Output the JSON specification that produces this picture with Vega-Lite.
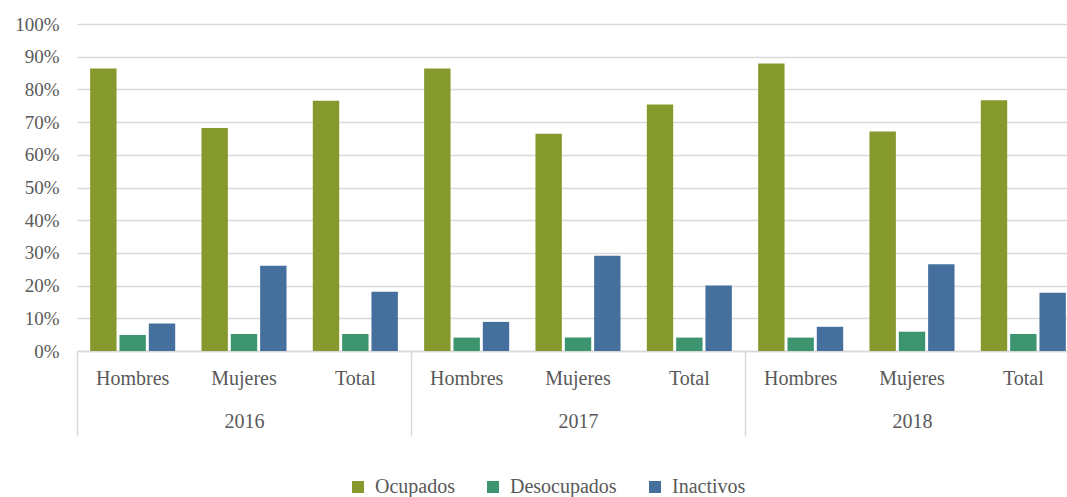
{
  "$schema": "https://vega.github.io/schema/vega-lite/v6.json",
  "width": 990,
  "height": 327,
  "autosize": {"type": "none"},
  "padding": {"left": 77, "top": 24, "right": 0, "bottom": 146},
  "background": "white",
  "config": {
    "view": {"stroke": null},
    "font": "Liberation Serif"
  },
  "data": {
    "values": [
      {"anio": "2016", "grupo": "2016 Hombres", "serie": "Ocupados", "valor": 0.864},
      {"anio": "2016", "grupo": "2016 Hombres", "serie": "Desocupados", "valor": 0.049},
      {"anio": "2016", "grupo": "2016 Hombres", "serie": "Inactivos", "valor": 0.084},
      {"anio": "2016", "grupo": "2016 Mujeres", "serie": "Ocupados", "valor": 0.682},
      {"anio": "2016", "grupo": "2016 Mujeres", "serie": "Desocupados", "valor": 0.052},
      {"anio": "2016", "grupo": "2016 Mujeres", "serie": "Inactivos", "valor": 0.261},
      {"anio": "2016", "grupo": "2016 Total", "serie": "Ocupados", "valor": 0.765},
      {"anio": "2016", "grupo": "2016 Total", "serie": "Desocupados", "valor": 0.052},
      {"anio": "2016", "grupo": "2016 Total", "serie": "Inactivos", "valor": 0.181},
      {"anio": "2017", "grupo": "2017 Hombres", "serie": "Ocupados", "valor": 0.864},
      {"anio": "2017", "grupo": "2017 Hombres", "serie": "Desocupados", "valor": 0.041},
      {"anio": "2017", "grupo": "2017 Hombres", "serie": "Inactivos", "valor": 0.089},
      {"anio": "2017", "grupo": "2017 Mujeres", "serie": "Ocupados", "valor": 0.664},
      {"anio": "2017", "grupo": "2017 Mujeres", "serie": "Desocupados", "valor": 0.041},
      {"anio": "2017", "grupo": "2017 Mujeres", "serie": "Inactivos", "valor": 0.291},
      {"anio": "2017", "grupo": "2017 Total", "serie": "Ocupados", "valor": 0.754},
      {"anio": "2017", "grupo": "2017 Total", "serie": "Desocupados", "valor": 0.041},
      {"anio": "2017", "grupo": "2017 Total", "serie": "Inactivos", "valor": 0.200},
      {"anio": "2018", "grupo": "2018 Hombres", "serie": "Ocupados", "valor": 0.879},
      {"anio": "2018", "grupo": "2018 Hombres", "serie": "Desocupados", "valor": 0.041},
      {"anio": "2018", "grupo": "2018 Hombres", "serie": "Inactivos", "valor": 0.074},
      {"anio": "2018", "grupo": "2018 Mujeres", "serie": "Ocupados", "valor": 0.671},
      {"anio": "2018", "grupo": "2018 Mujeres", "serie": "Desocupados", "valor": 0.059},
      {"anio": "2018", "grupo": "2018 Mujeres", "serie": "Inactivos", "valor": 0.265},
      {"anio": "2018", "grupo": "2018 Total", "serie": "Ocupados", "valor": 0.767},
      {"anio": "2018", "grupo": "2018 Total", "serie": "Desocupados", "valor": 0.052},
      {"anio": "2018", "grupo": "2018 Total", "serie": "Inactivos", "valor": 0.178}
    ]
  },
  "layer": [
    {
      "mark": {"type": "bar", "clip": true},
      "encoding": {
        "x": {
          "field": "grupo", "type": "nominal",
          "scale": {"range": [0, 1002], "paddingInner": 0.236, "paddingOuter": 0.118},
          "axis": {"title": null, "orient": "bottom", "labelExpr": "split(datum.label, ' ')[1]", "labelAngle": 0, "ticks": false, "domainColor": "#d9d9d9", "domainWidth": 1.5, "labelPadding": 17, "labelFont": "Liberation Serif", "labelFontSize": 20, "labelColor": "#595959"}
        },
        "xOffset": {
          "field": "serie", "type": "nominal",
          "sort": ["Ocupados", "Desocupados", "Inactivos"],
          "scale": {"paddingInner": 0.1}
        },
        "y": {
          "field": "valor", "type": "quantitative",
          "scale": {"domain": [0, 1]},
          "axis": {"title": null, "format": ".0%", "values": [0, 0.1, 0.2, 0.3, 0.4, 0.5, 0.6, 0.7, 0.8, 0.9, 1], "labelOverlap": false, "ticks": false, "domain": false, "gridColor": "#d9d9d9", "gridWidth": 1.5, "labelPadding": 18, "labelFont": "Liberation Serif", "labelFontSize": 19, "labelColor": "#595959"}
        },
        "color": {
          "field": "serie", "type": "nominal",
          "scale": {"domain": ["Ocupados", "Desocupados", "Inactivos"], "range": ["#86992d", "#3d9570", "#45709d"]},
          "legend": {"title": null, "orient": "none", "legendX": 271, "legendY": 453, "direction": "horizontal", "symbolType": "square", "symbolSize": 144, "symbolStrokeWidth": 0, "labelOffset": 7, "columnPadding": 28, "labelFont": "Liberation Serif", "labelFontSize": 20, "labelColor": "#595959"}
        }
      }
    },
    {
      "mark": {"type": "bar", "opacity": 0},
      "encoding": {
        "x": {
          "field": "anio", "type": "nominal",
          "scale": {"type": "band", "range": [0, 1002], "paddingInner": 0, "paddingOuter": 0},
          "axis": {"title": null, "orient": "bottom", "labelAngle": 0, "tickBand": "extent", "tickSize": 85, "tickColor": "#d9d9d9", "tickWidth": 1.5, "domain": false, "labelPadding": -25, "labelFont": "Liberation Serif", "labelFontSize": 20, "labelColor": "#595959"}
        }
      }
    }
  ],
  "resolve": {"scale": {"x": "independent"}, "axis": {"x": "independent"}}
}
